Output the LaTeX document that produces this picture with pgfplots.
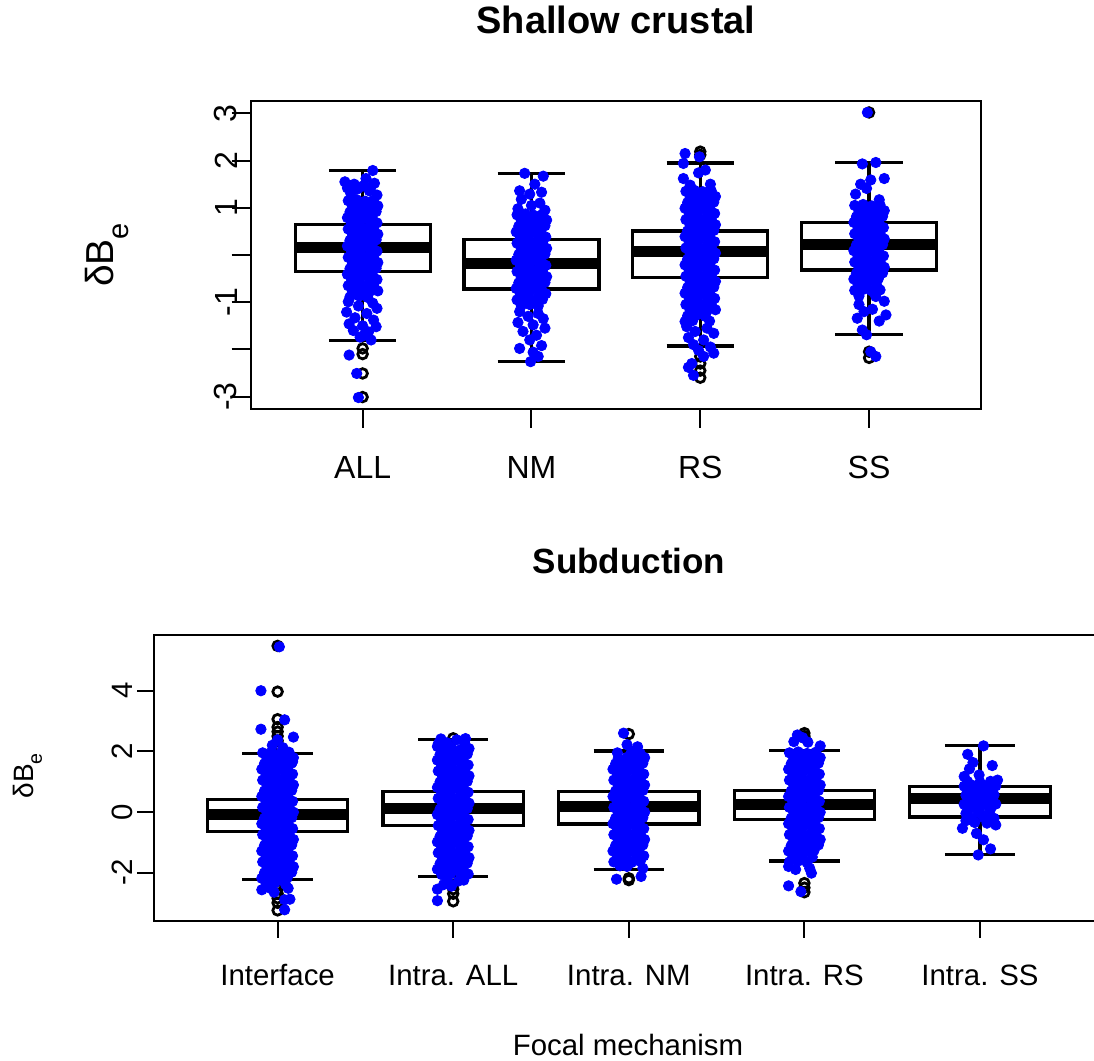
\documentclass[border=0pt]{standalone}
\usepackage{fontspec}
\setmainfont{Liberation Sans}
\usepackage{pgfplots}
\pgfplotsset{compat=1.18}
\usepgfplotslibrary{statistics}

\pgfplotsset{
  rframe/.style={scale only axis, clip=false,
    axis line style={line width=1pt},
    tick align=outside, tick pos=left,
    every tick/.style={black, line width=1pt}},
  rbox/.style={black, line width=1.6pt, solid, mark=o, mark size=2.4pt,
    every mark/.append style={line width=1.4pt, solid},
    boxplot/draw direction=y,
    boxplot/box extend=0.8, boxplot/whisker extend=0.4,
    boxplot/every box/.style={line width=1.6pt},
    boxplot/every whisker/.style={line width=1.6pt},
    boxplot/every median/.style={line width=5.5pt}},
  rdots/.style={only marks, mark=*, mark size=2.6pt, blue,
    mark options={draw=none, fill=blue}},
}

\begin{document}
\begin{tikzpicture}
\useasboundingbox (0,0) rectangle (547pt,530.5pt);

% ---------------- Shallow crustal ----------------
\begin{axis}[rframe,
  at={(125.35pt,326pt)}, anchor=south west,
  width=365.15pt, height=154pt,
  xmin=0.337, xmax=4.663, ymin=-3.263, ymax=3.263,
  xtick={1,2,3,4}, xticklabels={ALL,NM,RS,SS},
  ytick={-3,-2,-1,0,1,2,3}, yticklabels={-3,{},-1,{},1,2,3},
  major tick length=9.5pt,
  tick label style={font=\fontsize{16}{19}\selectfont, inner sep=0pt},
  xticklabel style={anchor=base, yshift=-25.5pt},
  yticklabel style={rotate=90, anchor=south, yshift=-3pt},
]
\addplot[rbox, boxplot prepared={draw position=1, lower whisker=-1.82,
  lower quartile=-0.35, median=0.16, upper quartile=0.64, upper whisker=1.79}]
  coordinates {(0,-1.98) (0,-2.10) (0,-2.51) (0,-3.01)};
\addplot[rbox, boxplot prepared={draw position=2, lower whisker=-2.25,
  lower quartile=-0.72, median=-0.18, upper quartile=0.33, upper whisker=1.73}]
  coordinates {};
\addplot[rbox, boxplot prepared={draw position=3, lower whisker=-1.93,
  lower quartile=-0.47, median=0.07, upper quartile=0.51, upper whisker=1.95}]
  coordinates {(0,2.19) (0,2.12) (0,-2.15) (0,-2.30) (0,-2.45) (0,-2.60)};
\addplot[rbox, boxplot prepared={draw position=4, lower whisker=-1.68,
  lower quartile=-0.32, median=0.23, upper quartile=0.69, upper whisker=1.96}]
  coordinates {(0,3.02) (0,-2.05) (0,-2.18)};

% ALL
\addplot[rdots] coordinates {
(1.06,1.79) (0.895,1.55) (0.95,1.50) (1.02,1.62) (1.07,1.52) (0.97,1.40)
(1.04,1.36) (0.93,1.30) (1.085,1.27) (1.00,1.46) (1.05,1.44) (0.91,1.42)
(0.915,1.15) (0.965,1.17) (1.015,1.14) (1.065,1.16)
(0.94,1.03) (0.99,1.05) (1.04,1.02) (1.09,1.04)
(0.925,0.91) (0.98,0.93) (1.03,0.90) (1.08,0.92)
(0.91,0.79) (0.955,0.81) (1.005,0.78) (1.055,0.80)
(0.935,0.67) (0.985,0.69) (1.045,0.66) (1.085,0.68)
(0.915,0.55) (0.965,0.57) (1.015,0.54) (1.065,0.56)
(0.94,0.43) (0.99,0.45) (1.04,0.42) (1.09,0.44)
(0.925,0.31) (0.98,0.33) (1.03,0.30) (1.08,0.32)
(0.91,0.19) (0.955,0.21) (1.005,0.18) (1.055,0.20)
(0.935,0.07) (0.985,0.09) (1.045,0.06) (1.085,0.08)
(0.915,-0.05) (0.965,-0.03) (1.015,-0.06) (1.065,-0.04)
(0.94,-0.17) (0.99,-0.15) (1.04,-0.18) (1.09,-0.16)
(0.925,-0.29) (0.98,-0.27) (1.03,-0.30) (1.08,-0.28)
(0.91,-0.41) (0.955,-0.39) (1.005,-0.42) (1.055,-0.40)
(0.935,-0.53) (0.985,-0.51) (1.045,-0.54) (1.085,-0.52)
(0.915,-0.65) (0.965,-0.63) (1.015,-0.66) (1.065,-0.64)
(0.94,-0.77) (0.99,-0.75) (1.04,-0.78) (1.09,-0.76)
(0.925,-0.89) (0.98,-0.87) (1.03,-0.90)
(0.915,-0.99) (1.06,-1.02) (0.975,-1.08) (1.085,-1.13) (0.905,-1.21)
(1.025,-1.24) (0.955,-1.33) (1.065,-1.38) (0.92,-1.46) (1.00,-1.50)
(1.08,-1.52) (0.945,-1.60) (1.035,-1.63) (0.985,-1.74) (1.05,-1.80)
(1.01,-1.70) (0.92,-2.12) (0.965,-2.51) (0.975,-3.02)
};
% NM
\addplot[rdots] coordinates {
(1.96,1.73) (2.07,1.67) (2.02,1.50) (1.93,1.36) (1.99,1.29) (2.06,1.33)
(1.94,1.18) (2.05,1.10) (2.00,1.05) (1.92,0.98) (2.08,0.95)
(1.915,0.85) (1.965,0.87) (2.015,0.84) (2.065,0.86)
(1.94,0.73) (1.99,0.75) (2.04,0.72) (2.09,0.74)
(1.925,0.61) (1.98,0.63) (2.03,0.60) (2.08,0.62)
(1.91,0.49) (1.955,0.51) (2.005,0.48) (2.055,0.50)
(1.935,0.37) (1.985,0.39) (2.045,0.36) (2.085,0.38)
(1.915,0.25) (1.965,0.27) (2.015,0.24) (2.065,0.26)
(1.94,0.13) (1.99,0.15) (2.04,0.12) (2.09,0.14)
(1.925,0.01) (1.98,0.03) (2.03,0.00) (2.08,0.02)
(1.91,-0.11) (1.955,-0.09) (2.005,-0.12) (2.055,-0.10)
(1.935,-0.23) (1.985,-0.21) (2.045,-0.24) (2.085,-0.22)
(1.915,-0.35) (1.965,-0.33) (2.015,-0.36) (2.065,-0.34)
(1.94,-0.47) (1.99,-0.45) (2.04,-0.48) (2.09,-0.46)
(1.925,-0.59) (1.98,-0.57) (2.03,-0.60) (2.08,-0.58)
(1.91,-0.71) (1.955,-0.69) (2.005,-0.72) (2.055,-0.70)
(1.935,-0.83) (1.985,-0.81) (2.045,-0.84) (2.085,-0.82)
(1.915,-0.95) (1.965,-0.93) (2.015,-0.96) (2.065,-0.94)
(1.94,-1.07) (1.99,-1.05) (2.04,-1.08)
(1.93,-1.20) (2.04,-1.24) (1.98,-1.30) (2.07,-1.35) (1.92,-1.43)
(2.01,-1.48) (2.08,-1.55) (1.95,-1.62) (2.03,-1.70) (1.99,-1.80)
(2.06,-1.92) (1.93,-1.98) (2.01,-2.06) (2.04,-2.15) (1.995,-2.26)
};
% RS
\addplot[rdots] coordinates {
(2.91,2.15) (2.995,2.08) (2.90,1.94) (3.03,1.80) (2.90,1.62) (2.99,1.74)
(3.06,1.50) (2.94,1.48)
(2.915,1.35) (2.965,1.37) (3.015,1.34) (3.065,1.36)
(2.94,1.23) (2.99,1.25) (3.04,1.22) (3.09,1.24)
(2.925,1.11) (2.98,1.13) (3.03,1.10) (3.08,1.12)
(2.91,0.99) (2.955,1.01) (3.005,0.98) (3.055,1.00)
(2.935,0.87) (2.985,0.89) (3.045,0.86) (3.085,0.88)
(2.915,0.75) (2.965,0.77) (3.015,0.74) (3.065,0.76)
(2.94,0.63) (2.99,0.65) (3.04,0.62) (3.09,0.64)
(2.925,0.51) (2.98,0.53) (3.03,0.50) (3.08,0.52)
(2.91,0.39) (2.955,0.41) (3.005,0.38) (3.055,0.40)
(2.935,0.27) (2.985,0.29) (3.045,0.26) (3.085,0.28)
(2.915,0.15) (2.965,0.17) (3.015,0.14) (3.065,0.16)
(2.94,0.03) (2.99,0.05) (3.04,0.02) (3.09,0.04)
(2.925,-0.09) (2.98,-0.07) (3.03,-0.10) (3.08,-0.08)
(2.91,-0.21) (2.955,-0.19) (3.005,-0.22) (3.055,-0.20)
(2.935,-0.33) (2.985,-0.31) (3.045,-0.34) (3.085,-0.32)
(2.915,-0.45) (2.965,-0.43) (3.015,-0.46) (3.065,-0.44)
(2.94,-0.57) (2.99,-0.55) (3.04,-0.58) (3.09,-0.56)
(2.925,-0.69) (2.98,-0.67) (3.03,-0.70) (3.08,-0.68)
(2.91,-0.81) (2.955,-0.79) (3.005,-0.82) (3.055,-0.80)
(2.935,-0.93) (2.985,-0.91) (3.045,-0.94) (3.085,-0.92)
(2.915,-1.05) (2.965,-1.03) (3.015,-1.06) (3.065,-1.04)
(2.94,-1.17) (2.99,-1.15) (3.04,-1.18) (3.09,-1.16)
(2.925,-1.29) (2.98,-1.27) (3.03,-1.30)
(2.91,-1.41) (2.955,-1.39) (3.055,-1.40)
(2.92,-1.52) (3.04,-1.55) (2.97,-1.62) (3.08,-1.66) (2.93,-1.75)
(3.02,-1.80) (2.96,-1.90) (3.06,-1.95) (2.99,-2.02) (3.08,-2.08)
(3.02,-2.15) (2.93,-2.38) (2.96,-2.55) (2.95,-2.30)
};
% SS
\addplot[rdots] coordinates {
(3.99,3.02) (3.96,1.93) (4.04,1.96) (4.09,1.62) (4.01,1.59) (3.985,1.41)
(3.92,1.29) (4.06,1.17) (3.95,1.50)
(3.915,1.05) (3.965,1.07) (4.015,1.04) (4.065,1.06)
(3.94,0.93) (3.99,0.95) (4.04,0.92) (4.09,0.94)
(3.925,0.81) (3.98,0.83) (4.03,0.80) (4.08,0.82)
(3.91,0.69) (3.955,0.71) (4.005,0.68) (4.055,0.70)
(3.935,0.57) (3.985,0.59) (4.045,0.56) (4.085,0.58)
(3.915,0.45) (3.965,0.47) (4.015,0.44) (4.065,0.46)
(3.94,0.33) (3.99,0.35) (4.04,0.32) (4.09,0.34)
(3.925,0.21) (3.98,0.23) (4.03,0.20) (4.08,0.22)
(3.91,0.09) (3.955,0.11) (4.005,0.08) (4.055,0.10)
(3.935,-0.03) (3.985,-0.01) (4.045,-0.04) (4.085,-0.02)
(3.915,-0.15) (3.965,-0.13) (4.015,-0.16) (4.065,-0.14)
(3.94,-0.27) (3.99,-0.25) (4.04,-0.28) (4.09,-0.26)
(3.925,-0.39) (3.98,-0.37) (4.03,-0.40) (4.08,-0.38)
(3.91,-0.51) (3.955,-0.49) (4.005,-0.52) (4.055,-0.50)
(3.935,-0.63) (3.985,-0.61) (4.045,-0.64)
(3.915,-0.75) (3.965,-0.73) (4.015,-0.76) (4.065,-0.74)
(3.94,-0.87) (4.04,-0.88)
(4.09,-0.98) (3.94,-1.05) (4.02,-1.15) (3.97,-1.20) (4.10,-1.27)
(3.93,-1.34) (4.06,-1.40) (3.96,-1.59) (3.985,-1.69) (4.01,-2.05) (4.04,-2.15)
};
\end{axis}

% ---------------- Subduction ----------------
\begin{axis}[rframe,
  at={(77pt,70.15pt)}, anchor=south west,
  width=474.8pt, height=142.85pt,
  xmin=0.296, xmax=5.704, ymin=-3.59, ymax=5.84,
  xtick={1,2,3,4,5},
  xticklabels={Interface,Intra. ALL,Intra. NM,Intra. RS,Intra. SS},
  ytick={-2,0,2,4}, yticklabels={-2,0,2,4},
  major tick length=8.5pt,
  tick label style={font=\fontsize{14.7}{17}\selectfont, inner sep=0pt},
  xticklabel style={anchor=base, yshift=-24pt},
  yticklabel style={rotate=90, anchor=south, yshift=2pt},
]
\addplot[rbox, boxplot prepared={draw position=1, lower whisker=-2.24,
  lower quartile=-0.65, median=-0.10, upper quartile=0.40, upper whisker=1.94}]
  coordinates {(0,5.48) (0,3.97) (0,3.06) (0,2.80) (0,2.65) (0,2.50) (0,2.35)
  (0,2.20) (0,2.10) (0,-2.40) (0,-2.55) (0,-2.70) (0,-2.85) (0,-3.00) (0,-3.25)};
\addplot[rbox, boxplot prepared={draw position=2, lower whisker=-2.13,
  lower quartile=-0.46, median=0.10, upper quartile=0.67, upper whisker=2.40}]
  coordinates {(0,2.43) (0,-2.40) (0,-2.55) (0,-2.70) (0,-2.95)};
\addplot[rbox, boxplot prepared={draw position=3, lower whisker=-1.89,
  lower quartile=-0.40, median=0.18, upper quartile=0.67, upper whisker=2.01}]
  coordinates {(0,2.57) (0,-2.19) (0,-2.25)};
\addplot[rbox, boxplot prepared={draw position=4, lower whisker=-1.62,
  lower quartile=-0.24, median=0.23, upper quartile=0.70, upper whisker=2.04}]
  coordinates {(0,2.60) (0,2.50) (0,2.45) (0,-2.35) (0,-2.50) (0,-2.65)};
\addplot[rbox, boxplot prepared={draw position=5, lower whisker=-1.41,
  lower quartile=-0.17, median=0.45, upper quartile=0.84, upper whisker=2.18}]
  coordinates {};

% Interface
\addplot[rdots] coordinates {
(1.01,5.45) (0.905,4.00) (0.905,2.73) (1.09,2.47) (1.04,3.04) (1.00,2.38)
(1.085,1.66) (0.97,2.20) (1.03,2.12)
(0.915,1.95) (0.965,1.98) (1.015,1.93) (1.065,1.97)
(0.94,1.77) (0.99,1.80) (1.04,1.75) (1.09,1.79)
(0.925,1.59) (0.98,1.62) (1.03,1.57) (1.08,1.61)
(0.91,1.41) (0.955,1.44) (1.005,1.39) (1.055,1.43)
(0.935,1.23) (0.985,1.26) (1.045,1.21) (1.085,1.25)
(0.915,1.05) (0.965,1.08) (1.015,1.03) (1.065,1.07)
(0.94,0.87) (0.99,0.90) (1.04,0.85) (1.09,0.89)
(0.925,0.69) (0.98,0.72) (1.03,0.67) (1.08,0.71)
(0.91,0.51) (0.955,0.54) (1.005,0.49) (1.055,0.53)
(0.935,0.33) (0.985,0.36) (1.045,0.31) (1.085,0.35)
(0.915,0.15) (0.965,0.18) (1.015,0.13) (1.065,0.17)
(0.94,-0.03) (0.99,0.00) (1.04,-0.05) (1.09,-0.01)
(0.925,-0.21) (0.98,-0.18) (1.03,-0.23) (1.08,-0.19)
(0.91,-0.39) (0.955,-0.36) (1.005,-0.41) (1.055,-0.37)
(0.935,-0.57) (0.985,-0.54) (1.045,-0.59) (1.085,-0.55)
(0.915,-0.75) (0.965,-0.72) (1.015,-0.77) (1.065,-0.73)
(0.94,-0.93) (0.99,-0.90) (1.04,-0.95) (1.09,-0.91)
(0.925,-1.11) (0.98,-1.08) (1.03,-1.13) (1.08,-1.09)
(0.91,-1.29) (0.955,-1.26) (1.005,-1.31) (1.055,-1.27)
(0.935,-1.47) (0.985,-1.44) (1.045,-1.49) (1.085,-1.45)
(0.915,-1.65) (0.965,-1.62) (1.015,-1.67) (1.065,-1.63)
(0.94,-1.83) (0.99,-1.80) (1.04,-1.85) (1.09,-1.81)
(0.925,-2.01) (0.98,-1.98) (1.03,-2.03) (1.08,-1.99)
(0.91,-2.19) (0.955,-2.16) (1.005,-2.21) (1.055,-2.17)
(0.935,-2.37) (0.985,-2.34) (1.045,-2.39)
(0.91,-2.57) (0.95,-2.50) (1.04,-2.90) (1.07,-2.88) (1.04,-3.23)
(0.98,-2.65) (1.06,-2.52)
};
% Intra. ALL
\addplot[rdots] coordinates {
(1.93,2.41) (2.02,2.38) (1.91,2.16) (2.07,2.42)
(1.915,2.25) (1.965,2.28) (2.065,2.27)
(1.94,2.07) (1.99,2.10) (2.04,2.05) (2.09,2.09)
(1.925,1.89) (1.98,1.92) (2.03,1.87) (2.08,1.91)
(1.91,1.71) (1.955,1.74) (2.005,1.69) (2.055,1.73)
(1.935,1.53) (1.985,1.56) (2.045,1.51) (2.085,1.55)
(1.915,1.35) (1.965,1.38) (2.015,1.33) (2.065,1.37)
(1.94,1.17) (1.99,1.20) (2.04,1.15) (2.09,1.19)
(1.925,0.99) (1.98,1.02) (2.03,0.97) (2.08,1.01)
(1.91,0.81) (1.955,0.84) (2.005,0.79) (2.055,0.83)
(1.935,0.63) (1.985,0.66) (2.045,0.61) (2.085,0.65)
(1.915,0.45) (1.965,0.48) (2.015,0.43) (2.065,0.47)
(1.94,0.27) (1.99,0.30) (2.04,0.25) (2.09,0.29)
(1.925,0.09) (1.98,0.12) (2.03,0.07) (2.08,0.11)
(1.91,-0.09) (1.955,-0.06) (2.005,-0.11) (2.055,-0.07)
(1.935,-0.27) (1.985,-0.24) (2.045,-0.29) (2.085,-0.25)
(1.915,-0.45) (1.965,-0.42) (2.015,-0.47) (2.065,-0.43)
(1.94,-0.63) (1.99,-0.60) (2.04,-0.65) (2.09,-0.61)
(1.925,-0.81) (1.98,-0.78) (2.03,-0.83) (2.08,-0.79)
(1.91,-0.99) (1.955,-0.96) (2.005,-1.01) (2.055,-0.97)
(1.935,-1.17) (1.985,-1.14) (2.045,-1.19) (2.085,-1.15)
(1.915,-1.35) (1.965,-1.32) (2.015,-1.37) (2.065,-1.33)
(1.94,-1.53) (1.99,-1.50) (2.04,-1.55) (2.09,-1.51)
(1.925,-1.71) (1.98,-1.68) (2.03,-1.73) (2.08,-1.69)
(1.91,-1.89) (1.955,-1.86) (2.005,-1.91) (2.055,-1.87)
(1.935,-2.07) (1.985,-2.04) (2.045,-2.09) (2.085,-2.05)
(1.97,-2.30) (2.03,-2.28) (1.99,-2.45) (2.06,-2.25) (1.945,-2.40)
(1.91,-2.55) (1.91,-2.93)
};
% Intra. NM
\addplot[rdots] coordinates {
(2.97,2.60) (3.05,2.15) (2.99,2.22)
(2.935,1.95) (3.015,1.97) (3.065,1.93)
(2.94,1.77) (2.99,1.80) (3.04,1.75) (3.09,1.79)
(2.925,1.59) (2.98,1.62) (3.03,1.57) (3.08,1.61)
(2.91,1.41) (2.955,1.44) (3.005,1.39) (3.055,1.43)
(2.935,1.23) (2.985,1.26) (3.045,1.21) (3.085,1.25)
(2.915,1.05) (2.965,1.08) (3.015,1.03) (3.065,1.07)
(2.94,0.87) (2.99,0.90) (3.04,0.85) (3.09,0.89)
(2.925,0.69) (2.98,0.72) (3.03,0.67) (3.08,0.71)
(2.91,0.51) (2.955,0.54) (3.005,0.49) (3.055,0.53)
(2.935,0.33) (2.985,0.36) (3.045,0.31) (3.085,0.35)
(2.915,0.15) (2.965,0.18) (3.015,0.13) (3.065,0.17)
(2.94,-0.03) (2.99,0.00) (3.04,-0.05) (3.09,-0.01)
(2.925,-0.21) (2.98,-0.18) (3.03,-0.23) (3.08,-0.19)
(2.91,-0.39) (2.955,-0.36) (3.005,-0.41) (3.055,-0.37)
(2.935,-0.57) (2.985,-0.54) (3.045,-0.59) (3.085,-0.55)
(2.915,-0.75) (2.965,-0.72) (3.015,-0.77) (3.065,-0.73)
(2.94,-0.93) (2.99,-0.90) (3.04,-0.95) (3.09,-0.91)
(2.925,-1.11) (2.98,-1.08) (3.03,-1.13) (3.08,-1.09)
(2.91,-1.29) (2.955,-1.26) (3.005,-1.31) (3.055,-1.27)
(2.935,-1.47) (2.985,-1.44) (3.045,-1.49) (3.085,-1.45)
(2.915,-1.65) (2.965,-1.62) (3.015,-1.67) (3.065,-1.63)
(3.08,-1.86) (3.07,-2.13) (2.93,-2.22) (2.99,-1.80) (2.95,-1.78)
};
% Intra. RS
\addplot[rdots] coordinates {
(3.96,2.54) (3.94,2.32) (4.09,2.18) (3.99,2.45) (4.02,2.30)
(3.915,1.95) (3.965,1.98) (4.015,1.93) (4.065,1.97)
(3.94,1.77) (3.99,1.80) (4.04,1.75) (4.09,1.79)
(3.925,1.59) (3.98,1.62) (4.03,1.57) (4.08,1.61)
(3.91,1.41) (3.955,1.44) (4.005,1.39) (4.055,1.43)
(3.935,1.23) (3.985,1.26) (4.045,1.21) (4.085,1.25)
(3.915,1.05) (3.965,1.08) (4.015,1.03) (4.065,1.07)
(3.94,0.87) (3.99,0.90) (4.04,0.85) (4.09,0.89)
(3.925,0.69) (3.98,0.72) (4.03,0.67) (4.08,0.71)
(3.91,0.51) (3.955,0.54) (4.005,0.49) (4.055,0.53)
(3.935,0.33) (3.985,0.36) (4.045,0.31) (4.085,0.35)
(3.915,0.15) (3.965,0.18) (4.015,0.13) (4.065,0.17)
(3.94,-0.03) (3.99,0.00) (4.04,-0.05) (4.09,-0.01)
(3.925,-0.21) (3.98,-0.18) (4.03,-0.23) (4.08,-0.19)
(3.91,-0.39) (3.955,-0.36) (4.005,-0.41) (4.055,-0.37)
(3.935,-0.57) (3.985,-0.54) (4.045,-0.59) (4.085,-0.55)
(3.915,-0.75) (3.965,-0.72) (4.015,-0.77) (4.065,-0.73)
(3.94,-0.93) (3.99,-0.90) (4.04,-0.95) (4.09,-0.91)
(3.925,-1.11) (3.98,-1.08) (4.03,-1.13) (4.08,-1.09)
(3.91,-1.29) (3.955,-1.26) (4.005,-1.31) (4.055,-1.27)
(3.935,-1.47) (3.985,-1.44) (4.045,-1.49)
(3.915,-1.65) (3.965,-1.62) (4.015,-1.67)
(4.03,-1.86) (3.91,-1.80) (4.04,-2.02) (3.95,-1.90)
(3.91,-2.44) (3.98,-2.63)
};
% Intra. SS
\addplot[rdots] coordinates {
(5.02,2.18) (4.93,1.90) (4.96,1.63) (5.07,1.53) (4.94,1.42) (4.91,1.17)
(4.995,1.22) (5.10,1.05)
(4.93,1.00) (5.00,0.98) (5.06,1.01)
(4.91,0.85) (4.96,0.87) (5.04,0.84) (5.09,0.86)
(4.94,0.70) (5.00,0.72) (5.07,0.69)
(4.92,0.55) (4.98,0.57) (5.03,0.54) (5.08,0.56)
(4.95,0.40) (5.01,0.42) (5.06,0.39)
(4.91,0.25) (4.97,0.27) (5.04,0.24) (5.09,0.26)
(4.94,0.10) (5.00,0.12) (5.06,0.09)
(4.92,-0.05) (4.99,-0.03) (5.05,-0.06)
(4.95,-0.20) (5.02,-0.18) (5.08,-0.21)
(4.97,-0.35) (5.04,-0.37)
(4.92,-0.29) (4.90,-0.54) (5.09,-0.43) (4.98,-0.71) (5.02,-0.92)
(5.06,-1.22) (4.99,-1.42)
};
\end{axis}

% titles and axis titles
\node[anchor=base, font=\fontsize{19}{23}\selectfont\bfseries] at (308pt,513.75pt) {Shallow crustal};
\node[anchor=base, font=\fontsize{17.5}{21}\selectfont\bfseries] at (314.5pt,243.85pt) {Subduction};
\node[anchor=base, font=\fontsize{14.7}{17}\selectfont] at (314pt,2.5pt) {Focal mechanism};
\node[anchor=base, rotate=90, inner sep=0pt, font=\fontsize{19.5}{23}\selectfont] at (56.5pt,403pt)
  {δB\raisebox{-0.4em}{\fontsize{14.5}{17}\selectfont e}};
\node[anchor=base, rotate=90, inner sep=0pt, font=\fontsize{14}{17}\selectfont] at (16.7pt,142.5pt)
  {δB\raisebox{-0.3em}{\fontsize{9.8}{12}\selectfont e}};
\end{tikzpicture}
\end{document}
